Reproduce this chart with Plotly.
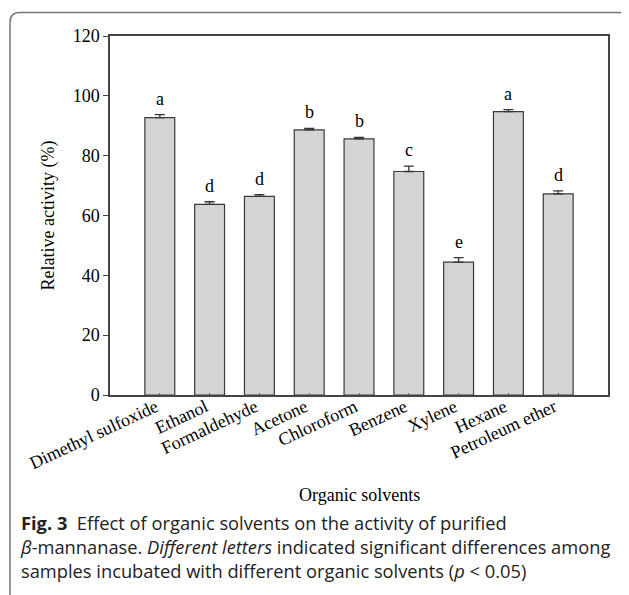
import plotly.graph_objects as go

solvents = ["Dimethyl sulfoxide", "Ethanol", "Formaldehyde", "Acetone", "Chloroform",
            "Benzene", "Xylene", "Hexane", "Petroleum ether"]
activity = [92.7, 63.7, 66.4, 88.6, 85.6, 74.7, 44.4, 94.7, 67.2]
errors = [1.0, 0.9, 0.6, 0.5, 0.5, 1.8, 1.5, 0.7, 1.0]
letters = ["a", "d", "d", "b", "b", "c", "e", "a", "d"]
y_ticks = [0, 20, 40, 60, 80, 100, 120]

# page body has an 8px margin, so the figure is drawn 8px smaller
W, H = 621, 587
L, R, T, B = 102, 21, 28, 200
pw = W - L - R
ph = H - T - B

def px(x):
    return (x - L) / pw

def py(y):
    return (H - B - y) / ph

SERIF = "Liberation Serif"
SANS = "Open Sans"

fig = go.Figure()
fig.add_trace(go.Bar(
    x=solvents, y=activity, width=0.6,
    marker=dict(color="#d4d4d4", line=dict(color="#3a3a3a", width=1.2)),
    error_y=dict(type="data", array=errors, arrayminus=[0] * len(errors),
                 symmetric=False, color="#333333", thickness=1.3, width=5),
    showlegend=False,
))

for s, v, e, lab in zip(solvents, activity, errors, letters):
    fig.add_annotation(x=s, y=v + e, text=lab, showarrow=False, yanchor="bottom",
                       yshift=4, font=dict(family=SERIF, size=18, color="black"))

fig.update_xaxes(range=[-1, len(solvents)], tickangle=-25,
                 tickfont=dict(family=SERIF, size=18, color="black"),
                 ticklabelstandoff=-7, ticklabelshift=-4,
                 showline=True, linecolor="#444444", linewidth=1.5, mirror=True,
                 ticks="inside", ticklen=2, tickcolor="#666666", showgrid=False)
fig.update_yaxes(range=[0, 120], tickvals=y_ticks,
                 tickfont=dict(family=SERIF, size=18, color="black"),
                 showline=True, linecolor="#444444", linewidth=1.5, mirror=True,
                 ticks="outside", ticklen=5, tickcolor="#444444", showgrid=False,
                 zeroline=False)

# axis titles
fig.add_annotation(xref="paper", yref="paper", x=0.5, y=py(487), text="Organic solvents",
                   showarrow=False, xanchor="center", yanchor="middle",
                   font=dict(family=SERIF, size=18, color="black"))
fig.add_annotation(xref="paper", yref="paper", x=px(40), y=0.5, text="Relative activity (%)",
                   showarrow=False, textangle=-90, xanchor="center", yanchor="middle",
                   font=dict(family=SERIF, size=18, color="black"))

# caption (one text block, three lines)
caption = ("<b>Fig. 3</b>  Effect of organic solvents on the activity of purified<br>"
           "<i>β</i>-mannanase. <i>Different letters</i> indicated significant differences among<br>"
           "samples incubated with different organic solvents (<i>p</i> &lt; 0.05)")
fig.add_annotation(xref="paper", yref="paper", x=px(10), y=py(538), text=caption,
                   showarrow=False, xanchor="left", yanchor="middle", align="left",
                   font=dict(family=SANS, size=18.3, color="#222222"))

# rounded frame
x0, x1, y0, y1, r = 2, 620, 4.5, 600, 10
path = (f"M {px(x0)},{py(y1)} L {px(x0)},{py(y0 + r)} "
        f"Q {px(x0)},{py(y0)} {px(x0 + r)},{py(y0)} "
        f"L {px(x1 - r)},{py(y0)} Q {px(x1)},{py(y0)} {px(x1)},{py(y0 + r)} "
        f"L {px(x1)},{py(y1)}")
fig.add_shape(type="path", xref="paper", yref="paper", path=path,
              line=dict(color="#777777", width=1.5), layer="below")

fig.update_layout(width=W, height=H, margin=dict(l=L, r=R, t=T, b=B),
                  plot_bgcolor="white", paper_bgcolor="white", bargap=0.4)

fig.write_html("out.html")
